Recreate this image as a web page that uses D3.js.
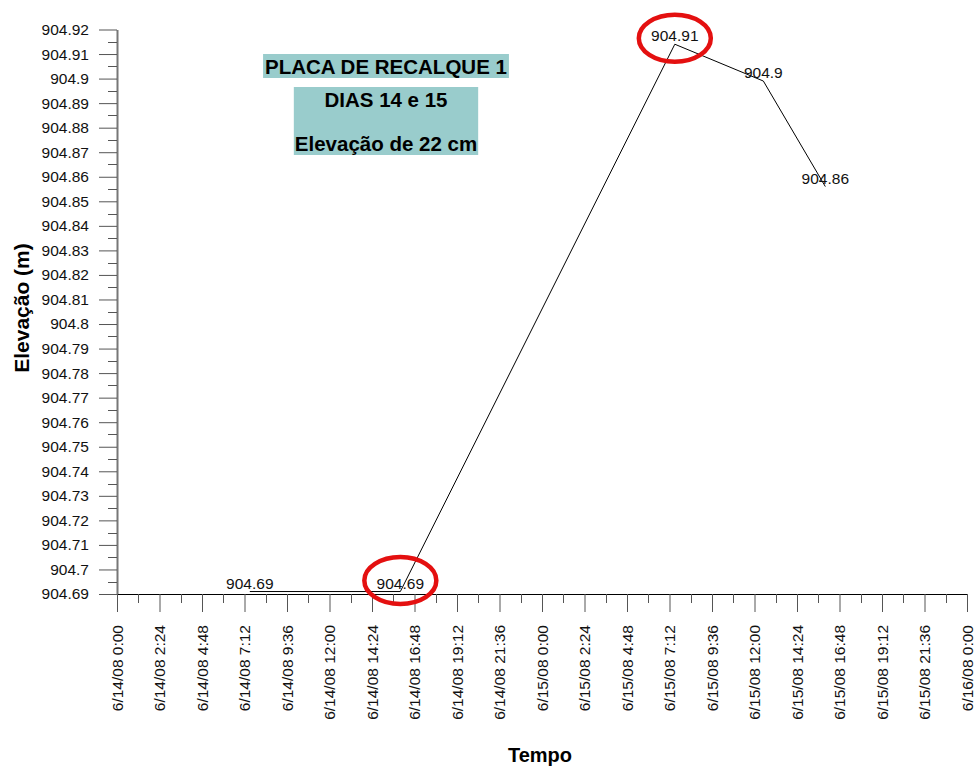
<!DOCTYPE html>
<html>
<head>
<meta charset="utf-8">
<script src="https://cdn.jsdelivr.net/npm/d3@7"></script>
<style>
  html, body { margin: 0; padding: 0; background: #fff; }
  svg { display: block; font-family: "Liberation Sans", Arial, Helvetica, sans-serif; }
</style>
</head>
<body>
<svg id="chart" width="976" height="769"></svg>
<script>
// Settlement plate readings (elevation in metres)
const times = [
  new Date(2008, 5, 14, 7, 30),
  new Date(2008, 5, 14, 16, 0),
  new Date(2008, 5, 15, 7, 30),
  new Date(2008, 5, 15, 12, 30),
  new Date(2008, 5, 15, 16, 0)
];
const elevations = [904.691, 904.691, 904.914, 904.899, 904.856];
const pointLabels = ["904.69", "904.69", "904.91", "904.9", "904.86"];
const highlighted = [1, 2]; // readings circled in red

const yTicks = d3.range(0, 24).map(i => +(904.69 + i * 0.01).toFixed(2));
const yTickLabels = yTicks.map(v => String(+v.toFixed(2)));
const titleLines = ["PLACA DE RECALQUE 1", "DIAS 14 e 15", "Elevação de 22 cm"];
const xTitle = "Tempo";
const yTitle = "Elevação (m)";

const svg = d3.select("#chart");
const x = d3.scaleTime()
  .domain([new Date(2008, 5, 14, 0, 0), new Date(2008, 5, 16, 0, 0)])
  .range([117, 967]);
const y = d3.scaleLinear().domain([904.69, 904.92]).range([594, 29.5]);

const step = 144 * 60 * 1000; // 2h24m between labelled ticks
const xTicks = d3.range(0, 21).map(i => new Date(x.domain()[0].getTime() + i * step));
const xMinor = d3.range(0, 20).map(i => new Date(x.domain()[0].getTime() + (i + 0.5) * step));
const fmt = d => `${d.getMonth() + 1}/${d.getDate()}/08 ${d.getHours()}:${String(d.getMinutes()).padStart(2, "0")}`;

// Y axis
const yAxis = svg.append("g").attr("transform", `translate(${x.range()[0]},0)`)
  .call(d3.axisLeft(y).tickValues(yTicks).tickFormat((d, i) => yTickLabels[i]).tickSize(18).tickPadding(10).tickSizeOuter(0));
yAxis.select(".domain").attr("stroke", "#777").attr("stroke-width", 2);
yAxis.selectAll(".tick line").attr("stroke", "#555");
yAxis.selectAll(".tick text").attr("font-size", 15.5).attr("fill", "#111").attr("font-family", null);
const yMinor = d3.range(0, 23).map(i => 904.695 + i * 0.01);
svg.append("g").selectAll("line").data(yMinor).join("line")
  .attr("x1", x.range()[0] - 9).attr("x2", x.range()[0])
  .attr("y1", d => Math.round(y(d)) + 0.5).attr("y2", d => Math.round(y(d)) + 0.5)
  .attr("stroke", "#555");

// X axis
const xAxis = svg.append("g").attr("transform", `translate(0,${y.range()[0]})`)
  .call(d3.axisBottom(x).tickValues(xTicks).tickFormat(fmt).tickSize(18).tickSizeOuter(0));
xAxis.select(".domain").attr("stroke", "#000");
xAxis.selectAll(".tick line").attr("stroke", "#555");
xAxis.selectAll(".tick text")
  .attr("font-size", 15.5).attr("fill", "#111").attr("font-family", null)
  .attr("text-anchor", "end")
  .attr("transform", "rotate(-90)")
  .attr("x", -31).attr("y", 0).attr("dy", "0.35em");
svg.append("g").selectAll("line").data(xMinor).join("line")
  .attr("x1", d => Math.round(x(d)) + 0.5).attr("x2", d => Math.round(x(d)) + 0.5)
  .attr("y1", y.range()[0]).attr("y2", y.range()[0] + 9)
  .attr("stroke", "#555");

// Axis titles
svg.append("text").attr("x", 540).attr("y", 762).attr("text-anchor", "middle")
  .attr("font-size", 20).attr("font-weight", "bold").text(xTitle);
svg.append("text").attr("transform", "translate(29,308) rotate(-90)").attr("text-anchor", "middle")
  .attr("font-size", 21).attr("font-weight", "bold").text(yTitle);

// Series line
const pts = times.map((t, i) => ({ t, v: elevations[i], label: pointLabels[i] }));
svg.append("path").datum(pts)
  .attr("fill", "none").attr("stroke", "#000").attr("stroke-width", 1)
  .attr("d", d3.line().x(d => x(d.t)).y(d => y(d.v)));

// Value labels
svg.append("g").selectAll("text").data(pts).join("text")
  .attr("x", d => x(d.t)).attr("y", d => y(d.v) - 3)
  .attr("text-anchor", "middle").attr("font-size", 15.5).attr("fill", "#111")
  .text(d => d.label);

// Highlight ellipses around selected readings (wrapping the value label)
const ellipseLift = { 1: 11, 2: 6 };
svg.append("g").selectAll("ellipse").data(highlighted).join("ellipse")
  .attr("cx", i => x(pts[i].t)).attr("cy", i => y(pts[i].v) - ellipseLift[i])
  .attr("rx", 36).attr("ry", 23.5)
  .attr("fill", "none").attr("stroke", "#e41010").attr("stroke-width", 4.5);

// Title block
const tg = svg.append("g");
const t1 = tg.append("text").attr("x", 386).attr("y", 73.5).attr("text-anchor", "middle")
  .attr("font-size", 20.5).attr("font-weight", "bold").text(titleLines[0]);
const t2 = tg.append("text").attr("x", 386).attr("y", 106.5).attr("text-anchor", "middle")
  .attr("font-size", 20.5).attr("font-weight", "bold").text(titleLines[1]);
const t3 = tg.append("text").attr("x", 386).attr("y", 150.5).attr("text-anchor", "middle")
  .attr("font-size", 20.5).attr("font-weight", "bold").text(titleLines[2]);
const b1 = t1.node().getBBox();
const b3 = t3.node().getBBox();
tg.insert("rect", "text").attr("x", b1.x - 2).attr("y", 54).attr("width", b1.width + 4).attr("height", 24).attr("fill", "#99cccc");
tg.insert("rect", "text").attr("x", b3.x - 1).attr("y", 87).attr("width", b3.width + 2).attr("height", 68).attr("fill", "#99cccc");
</script>
</body>
</html>
